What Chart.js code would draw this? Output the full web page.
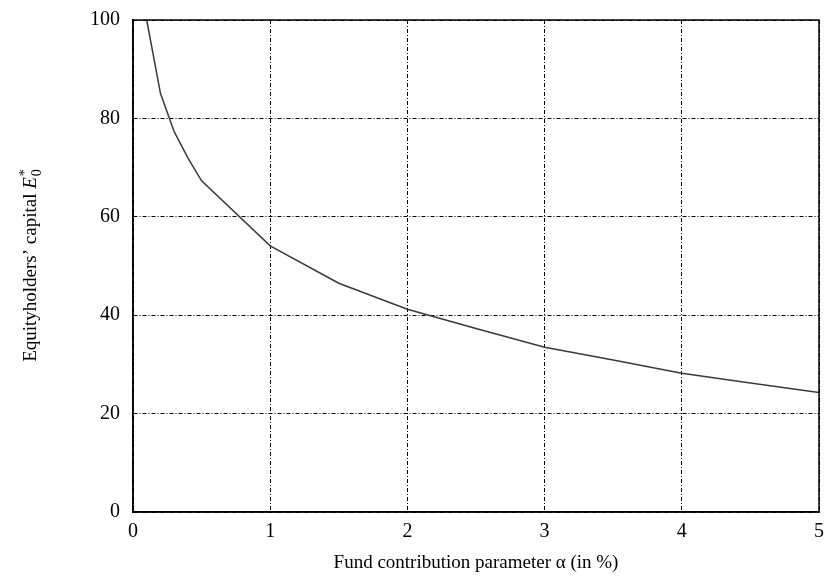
<!DOCTYPE html>
<html>
<head>
<meta charset="utf-8">
<script src="https://cdn.jsdelivr.net/npm/chart.js@4"></script>
<style>
  html, body { margin: 0; padding: 0; background: #fff; }
  #wrap { width: 840px; height: 582px; }
</style>
</head>
<body>
<div id="wrap"><canvas id="chart" width="840" height="582"></canvas></div>
<script>
// alpha (in %) and equityholders' capital E0*
const alphas = [0.1, 0.2, 0.3, 0.4, 0.5, 1, 1.5, 2, 2.5, 3, 3.5, 4, 4.5, 5]
const equity = [100, 85.1, 77.3, 72.0, 67.3, 54.1, 46.5, 41.2, 37.3, 33.5, 30.9, 28.2, 26.2, 24.3]
const xTicks = [0, 1, 2, 3, 4, 5]
const yTicks = [0, 20, 40, 60, 80, 100]

const serif = '"Liberation Serif", "DejaVu Serif", serif'

// frame round the plot + rotated y title with italic E, sub/superscript
const framePlugin = {
  id: 'frame',
  afterDraw(chart) {
    const { ctx, chartArea: a } = chart
    ctx.save()
    ctx.strokeStyle = '#000'
    ctx.lineWidth = 1.5
    ctx.strokeRect(a.left, a.top, a.right - a.left, a.bottom - a.top)

    // y axis title
    const parts = [
      { t: 'Equityholders’ capital ', f: '19px ' + serif, dy: 0 },
      { t: 'E', f: 'italic 19px ' + serif, dy: 0 },
      { t: '*', f: '14px ' + serif, dy: -7 },
    ]
    ctx.textBaseline = 'alphabetic'
    let total = 0
    parts.forEach(p => { ctx.font = p.f; p.w = ctx.measureText(p.t).width; total += p.w })
    ctx.translate(36, (a.top + a.bottom) / 2)
    ctx.rotate(-Math.PI / 2)
    let x = -total / 2
    ctx.fillStyle = '#000'
    parts.forEach((p, i) => {
      ctx.font = p.f
      ctx.fillText(p.t, x, p.dy)
      if (i === 1) {
        // subscript 0 under the star
        ctx.font = '14px ' + serif
        ctx.fillText('0', x + p.w + 1, 5)
      }
      x += p.w + (i === 1 ? 1 : 0)
    })
    ctx.restore()
  }
}

new Chart(document.getElementById('chart'), {
  type: 'line',
  data: {
    datasets: [{
      data: alphas.map((a, i) => ({ x: a, y: equity[i] })),
      borderColor: '#3a3a3a',
      borderWidth: 1.5,
      pointRadius: 0,
      tension: 0,
      fill: false
    }]
  },
  options: {
    responsive: false,
    animation: false,
    events: [],
    layout: { padding: { left: 0, right: 21, top: 20, bottom: 8 } },
    plugins: {
      legend: { display: false },
      tooltip: { enabled: false }
    },
    scales: {
      x: {
        type: 'linear',
        min: 0,
        max: 5,
        afterBuildTicks: s => { s.ticks = xTicks.map(v => ({ value: v })) },
        afterFit: s => { s.height = 62; s.paddingLeft = 0; s.paddingRight = 0 },
        grid: { color: '#000', lineWidth: 1, drawTicks: false },
        border: { display: true, color: '#000', width: 1.5, dash: [4, 2, 1, 2] },
        ticks: { color: '#000', font: { family: serif, size: 20 }, padding: 8, maxRotation: 0 },
        title: {
          display: true,
          text: 'Fund contribution parameter α (in %)',
          color: '#000',
          font: { family: serif, size: 19 },
          padding: { top: 4, bottom: 0 }
        }
      },
      y: {
        type: 'linear',
        min: 0,
        max: 100,
        afterBuildTicks: s => { s.ticks = yTicks.map(v => ({ value: v })) },
        afterFit: s => { s.width = 133; s.paddingTop = 0; s.paddingBottom = 0 },
        grid: { color: '#000', lineWidth: 1, drawTicks: false },
        border: { display: true, color: '#000', width: 1.5, dash: [4, 2, 1, 2] },
        ticks: { color: '#000', font: { family: serif, size: 20 }, padding: 13 }
      }
    }
  },
  plugins: [framePlugin]
})
</script>
</body>
</html>
